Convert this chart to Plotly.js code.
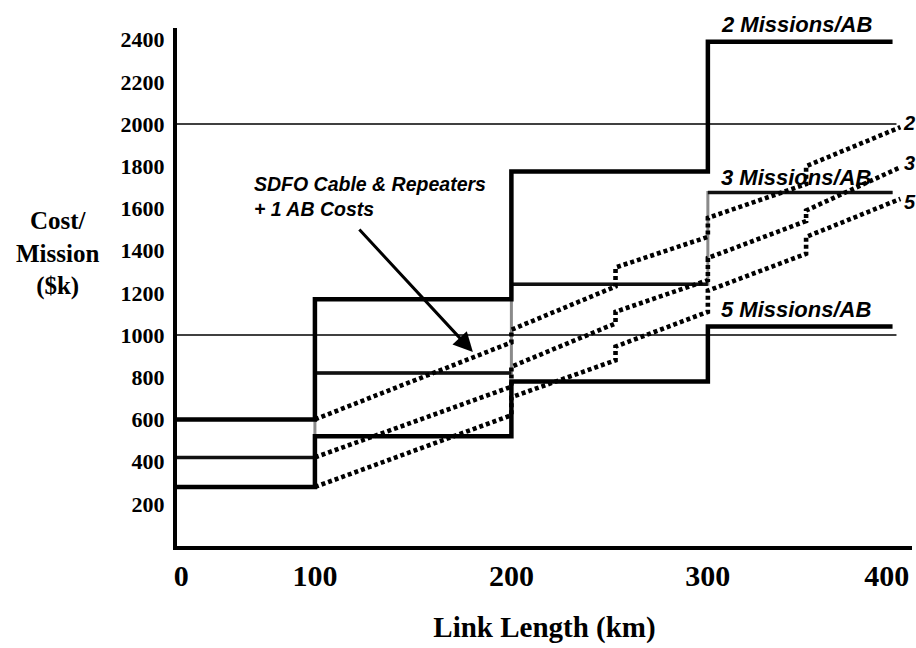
<!DOCTYPE html>
<html>
<head>
<meta charset="utf-8">
<script src="https://cdn.plot.ly/plotly-3.0.1.min.js"></script>
<style>
  html, body { margin: 0; padding: 0; background: #fff; }
  #chart { width: 916px; height: 648px; }
</style>
</head>
<body>
<div id="chart"></div>
<script>
// ---- Data ----
// x: link length (km); y: cost per mission ($k)
const xTickLabels = ['0', '100', '200', '300', '400'];
const yTickValues = [200, 400, 600, 800, 1000, 1200, 1400, 1600, 1800, 2000, 2200, 2400];

// step-cost series (one value per 100 km interval: 0-100, 100-200, 200-300, 300-400)
const stepBreaksKm = [100, 200, 300];
const missions2 = [600, 1170, 1775, 2390];
const missions3 = [420, 820, 1240, 1675];
const missions5 = [280, 520, 780, 1040];

// SDFO cable & repeaters + 1 AB cost curves (dotted)
const sdfoKm = [100, 200, 200, 253, 253, 300, 300, 350, 350, 398];
const sdfo2 = [600, 965, 1025, 1230, 1320, 1465, 1555, 1715, 1800, 1985];
const sdfo3 = [420, 755, 850, 1055, 1110, 1260, 1365, 1540, 1590, 1795];
const sdfo5 = [280, 620, 705, 880, 945, 1110, 1210, 1385, 1465, 1645];

// horizontal reference lines
const refLines = [1000, 2000];

// ---- Layout constants ----
const X_RANGE = [29.8, 403.9];
const Y_RANGE = [0, 2455];
const STEP_END = 394;
const REF_END = 396;

const serif = '"Liberation Serif", "Times New Roman", serif';
const sans = '"Liberation Sans", Arial, sans-serif';

function stepXY(vals) {
  const x = [X_RANGE[0]].concat(stepBreaksKm, [STEP_END]);
  const y = vals.concat([vals[vals.length - 1]]);
  return { x, y };
}
function horizSegments(vals) {
  const edges = [X_RANGE[0]].concat(stepBreaksKm, [STEP_END]);
  const x = [], y = [];
  vals.forEach((v, i) => { x.push(edges[i], edges[i + 1], null); y.push(v, v, null); });
  return { x, y };
}

const traces = [];
refLines.forEach(v => traces.push({
  x: [X_RANGE[0], REF_END], y: [v, v], mode: 'lines',
  line: { color: '#000', width: 1.3 }, hoverinfo: 'skip', showlegend: false
}));

// 3 Missions/AB: grey risers, black treads
const s3 = stepXY(missions3);
traces.push({ x: s3.x, y: s3.y, mode: 'lines', line: { shape: 'hv', color: '#8a8a8a', width: 3 }, showlegend: false, name: '3 Missions/AB' });
const h3 = horizSegments(missions3);
traces.push({ x: h3.x, y: h3.y, mode: 'lines', line: { color: '#111', width: 3.5 }, showlegend: false, connectgaps: false });

const s2 = stepXY(missions2);
traces.push({ x: s2.x, y: s2.y, mode: 'lines', line: { shape: 'hv', color: '#000', width: 4.5 }, showlegend: false, name: '2 Missions/AB' });
const s5 = stepXY(missions5);
traces.push({ x: s5.x, y: s5.y, mode: 'lines', line: { shape: 'hv', color: '#000', width: 4.5 }, showlegend: false, name: '5 Missions/AB' });

[sdfo2, sdfo3, sdfo5].forEach(vals => traces.push({
  x: sdfoKm, y: vals, mode: 'lines',
  line: { color: '#000', width: 4.6, dash: '4px,3px' }, showlegend: false
}));

const labelFont = { family: sans, size: 22, color: '#000', weight: 'bold', style: 'italic' };
const annotations = [
  { x: 345, y: missions2[3], xref: 'x', yref: 'y', text: '2 Missions/AB', showarrow: false, yshift: 17, font: labelFont },
  { x: 345, y: missions3[3], xref: 'x', yref: 'y', text: '3 Missions/AB', showarrow: false, yshift: 15, font: labelFont },
  { x: 345, y: missions5[3], xref: 'x', yref: 'y', text: '5 Missions/AB', showarrow: false, yshift: 17, font: labelFont },
  { x: sdfoKm[sdfoKm.length - 1], y: sdfo2[sdfo2.length - 1], xref: 'x', yref: 'y', text: '2', showarrow: false, xanchor: 'left', xshift: 1, yshift: 4, font: Object.assign({}, labelFont, { size: 20 }) },
  { x: sdfoKm[sdfoKm.length - 1], y: sdfo3[sdfo3.length - 1], xref: 'x', yref: 'y', text: '3', showarrow: false, xanchor: 'left', xshift: 2, yshift: 4, font: Object.assign({}, labelFont, { size: 20 }) },
  { x: sdfoKm[sdfoKm.length - 1], y: sdfo5[sdfo5.length - 1], xref: 'x', yref: 'y', text: '5', showarrow: false, xanchor: 'left', xshift: 2, yshift: -3, font: Object.assign({}, labelFont, { size: 20 }) },
  { x: 67.9, y: 1656, xref: 'x', yref: 'y', text: 'SDFO Cable &amp; Repeaters<br>+ 1 AB Costs', showarrow: false,
    xanchor: 'left', yanchor: 'middle', align: 'left', font: { family: sans, size: 19.5, color: '#000', weight: 'bold', style: 'italic' } },
  { x: 180.4, y: 919, xref: 'x', yref: 'y', ax: 121.9, ay: 1507, axref: 'x', ayref: 'y', text: '', showarrow: true,
    arrowhead: 2, arrowsize: 1.3, arrowwidth: 3, arrowcolor: '#000' },
  { x: -0.163, y: 0.565, xref: 'paper', yref: 'paper', text: 'Cost/<br>Mission<br>($k)', showarrow: false,
    align: 'center', xanchor: 'center', yanchor: 'middle', font: { family: serif, size: 25, color: '#000', weight: 'bold' } }
];

const layout = {
  width: 916, height: 648,
  margin: { l: 177, r: 4, t: 28, b: 102 },
  paper_bgcolor: '#fff', plot_bgcolor: '#fff',
  showlegend: false,
  xaxis: {
    range: X_RANGE, showgrid: false, zeroline: false,
    showline: true, linecolor: '#000', linewidth: 4,
    tickmode: 'array', tickvals: [32, 100, 200, 300, 391], ticktext: xTickLabels,
    ticks: '', tickfont: { family: serif, size: 30, color: '#000', weight: 'bold' },
    title: { text: 'Link Length (km)', font: { family: serif, size: 29, color: '#000', weight: 'bold' }, standoff: 27 }
  },
  yaxis: {
    range: Y_RANGE, showgrid: false, zeroline: false,
    showline: true, linecolor: '#000', linewidth: 4,
    tickmode: 'array', tickvals: yTickValues, ticktext: yTickValues.map(String),
    ticks: 'outside', ticklen: 4, tickcolor: 'rgba(0,0,0,0)',
    tickfont: { family: serif, size: 22, color: '#000', weight: 'bold' }
  },
  annotations: annotations
};

Plotly.newPlot('chart', traces, layout, { displayModeBar: false, staticPlot: true });
</script>
</body>
</html>
